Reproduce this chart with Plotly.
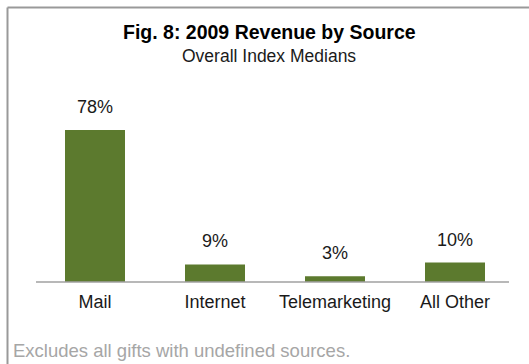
import plotly.graph_objects as go

# Revenue share by source (overall index medians, 2009)
categories = ["Mail", "Internet", "Telemarketing", "All Other"]
values = [78, 9, 3, 10]
value_labels = [f"{v}%" for v in values]

title_text = "Fig. 8: 2009 Revenue by Source"
subtitle_text = "Overall Index Medians"
footnote_text = "Excludes all gifts with undefined sources."

BAR_COLOR = "#5c7a2e"
TEXT_COLOR = "#1a1a1a"
FONT = "Liberation Sans, Arial, sans-serif"

W, H = 529, 364
ML, MR, MT, MB = 35, 14, 126, 82
PW, PH = W - ML - MR, H - MT - MB


def px_x(x):
    """Convert a pixel x position to paper coordinates."""
    return (x - ML) / PW


def px_y(y):
    """Convert a pixel y position (from the top) to paper coordinates."""
    return (H - MB - y) / PH


fig = go.Figure(
    go.Bar(
        x=categories,
        y=values,
        width=0.5,
        marker=dict(color=BAR_COLOR, line=dict(width=0)),
        hoverinfo="skip",
    )
)

annotations = []
for cat, v, lbl in zip(categories, values, value_labels):
    annotations.append(dict(
        x=cat, y=v, xref="x", yref="y", text=lbl, showarrow=False,
        yanchor="middle", yshift=23,
        font=dict(family=FONT, size=18, color=TEXT_COLOR),
    ))

annotations += [
    dict(x=px_x(269), y=px_y(32), xref="paper", yref="paper", text=f"<b>{title_text}</b>",
         showarrow=False, xanchor="center", yanchor="middle",
         font=dict(family=FONT, size=19.5, color="#000000")),
    dict(x=px_x(269), y=px_y(56), xref="paper", yref="paper", text=subtitle_text,
         showarrow=False, xanchor="center", yanchor="middle",
         font=dict(family=FONT, size=17.5, color=TEXT_COLOR)),
    dict(x=px_x(11), y=px_y(350), xref="paper", yref="paper", text=footnote_text,
         showarrow=False, xanchor="left", yanchor="middle",
         font=dict(family=FONT, size=18.5, color="#a6a6a6")),
]

shapes = [
    # frame: top and left edges
    dict(type="line", xref="paper", yref="paper", x0=px_x(7.5), x1=px_x(W + 2),
         y0=px_y(7.5), y1=px_y(7.5), line=dict(color="#999999", width=2)),
    dict(type="line", xref="paper", yref="paper", x0=px_x(7.5), x1=px_x(7.5),
         y0=px_y(7.5), y1=px_y(H + 2), line=dict(color="#999999", width=2)),
    # category axis baseline
    dict(type="line", xref="paper", yref="paper", x0=px_x(36), x1=px_x(509),
         y0=0, y1=0, line=dict(color="#a0a0a0", width=1.5)),
]

fig.update_layout(
    width=W, height=H,
    margin=dict(l=ML, r=MR, t=MT, b=MB, pad=0),
    paper_bgcolor="white", plot_bgcolor="white",
    showlegend=False,
    bargap=0.5,
    xaxis=dict(
        showline=False, showgrid=False, zeroline=False, ticks="",
        ticklabelstandoff=7,
        tickfont=dict(family=FONT, size=18, color=TEXT_COLOR),
        fixedrange=True,
    ),
    yaxis=dict(
        range=[0, 80], visible=False, fixedrange=True,
    ),
    annotations=annotations,
    shapes=shapes,
)

fig.write_html("out.html", config={"displayModeBar": False})
